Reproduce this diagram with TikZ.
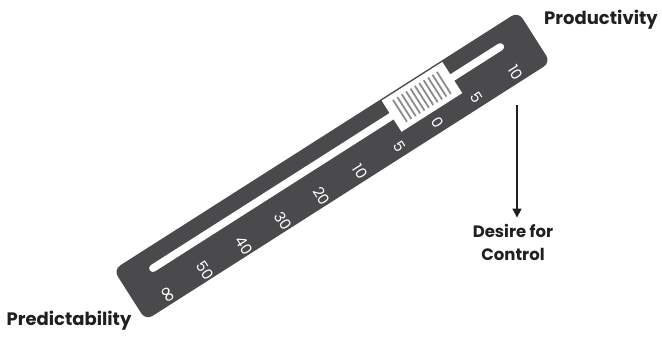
\documentclass[tikz,border=0pt]{standalone}
\usepackage{fontspec}
\setmainfont{Poppins}
\newfontfamily\symfont{DejaVu Sans}
\usetikzlibrary{arrows.meta}
\definecolor{barcol}{HTML}{4A4A4C}
\definecolor{ink}{HTML}{231F20}
\definecolor{stripecol}{HTML}{8C8C8C}
\begin{document}
\begin{tikzpicture}[x=1pt,y=-1pt,
  num/.style={text=white,font=\fontsize{15}{15}\selectfont,rotate=-57.5,inner sep=0pt},
  lbl/.style={text=ink,font=\bfseries\fontsize{18}{20}\selectfont,inner sep=0pt,anchor=base},
  stripe/.style={stripecol,line width=1.8pt}]
\useasboundingbox (0,0) rectangle (662,337);
\begin{scope}[shift={(332,166)},rotate=32.5]
  \fill[barcol,rounded corners=8pt] (-240,-30) rectangle (240,30);
  \draw[white,line width=7.5pt,line cap=round] (-206,-10) -- (206,-10);
  \fill[white] (77,-28.5) rectangle (149,8.5);
  \foreach \k in {0,...,10} {
    \draw[stripe] ({87+5.2*\k},-23) -- ({87+5.2*\k},3);
  }
  \node[num] (n10a) at (205,20) {10};
  \node[num] (n5a) at (159,20) {5};
  \node[num] (n0) at (113,20) {0};
  \node[num] (n5b) at (67,20) {5};
  \node[num] (n10b) at (21,20) {10};
  \node[num] (n20) at (-25,20) {20};
  \node[num] (n30) at (-71,20) {30};
  \node[num] (n40) at (-117,20) {40};
  \node[num] (n50) at (-163,20) {50};
  \node[num,font=\symfont\fontsize{22}{22}\selectfont] (ninf) at (-209,20) {∞};
\end{scope}
\node[lbl] (prod) at (601,25) {Productivity};
\node[lbl] (pred) at (69,325) {Predictability};
\node[lbl,font=\bfseries\fontsize{16.5}{20}\selectfont] (desire) at (513,237) {Desire for};
\node[lbl,font=\bfseries\fontsize{16.5}{20}\selectfont] (control) at (513,260) {Control};
\coordinate (atop) at (517,105);
\draw[ink,line width=1.6pt,-{Triangle[length=9pt,width=9pt]}] (atop) -- ([yshift=6pt]desire.north -| atop);
\end{tikzpicture}
\end{document}
